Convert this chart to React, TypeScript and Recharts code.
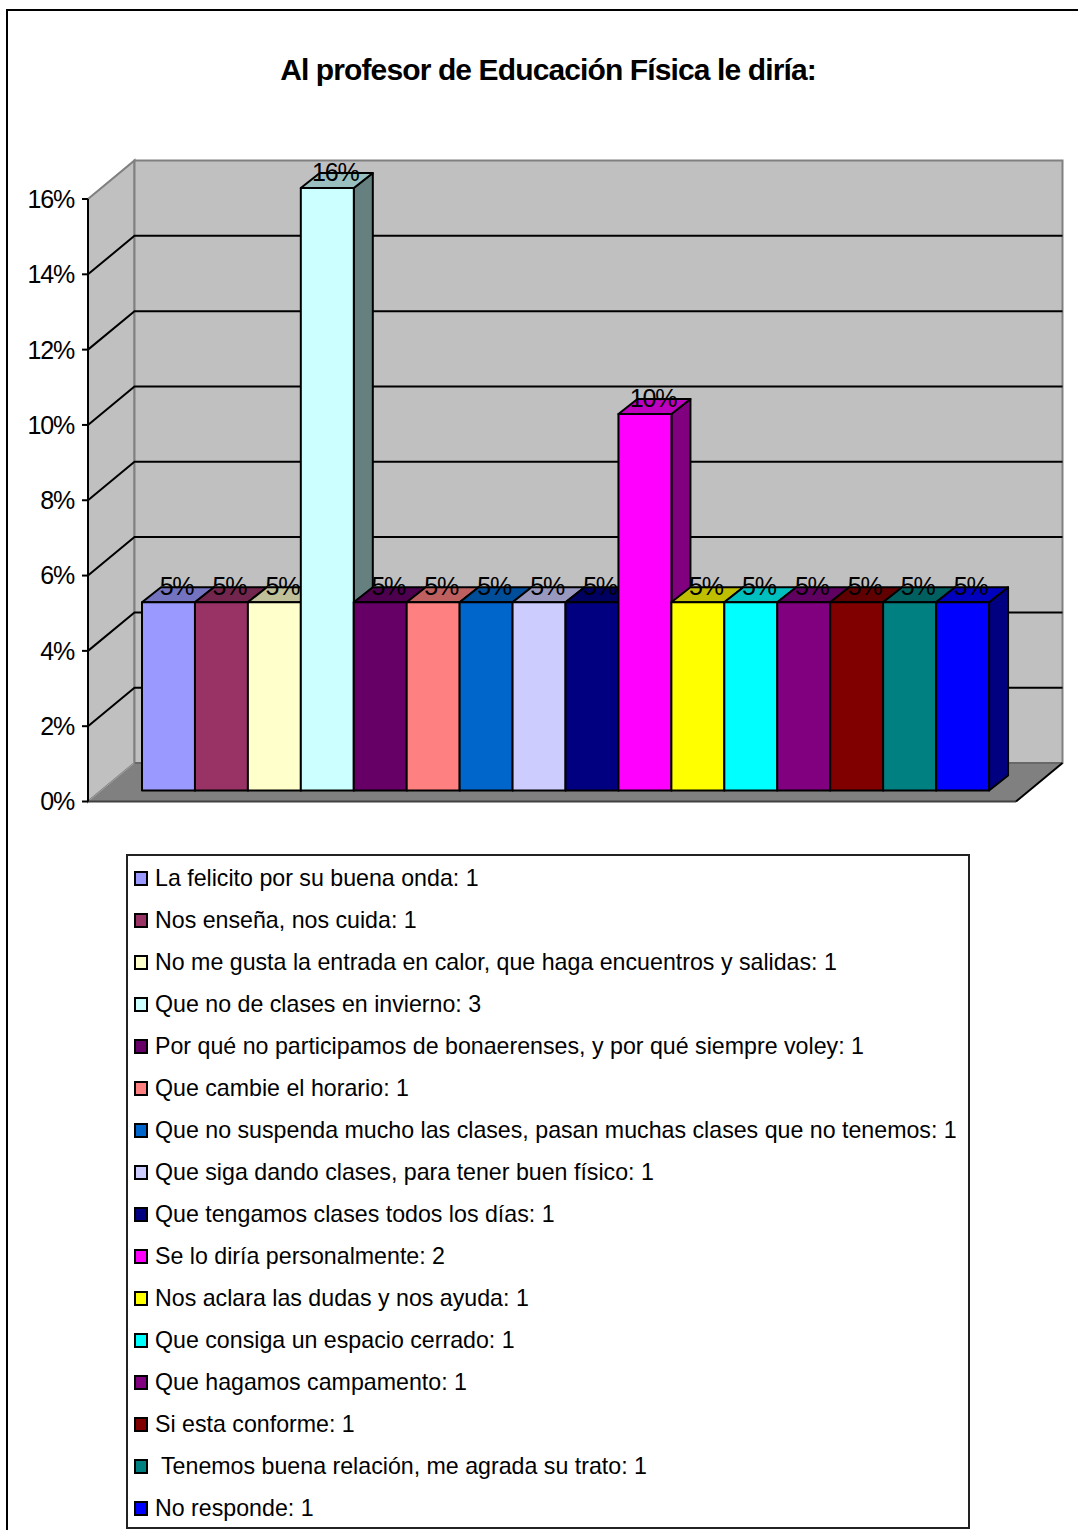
import { Bar, BarChart, CartesianGrid, Cell, LabelList, Legend, XAxis, YAxis, usePlotArea } from 'recharts';

const categories = [
  'La felicito por su buena onda',
  'Nos enseña, nos cuida',
  'No me gusta la entrada en calor, que haga encuentros y salidas',
  'Que no de clases en invierno',
  'Por qué no participamos de bonaerenses, y por qué siempre voley',
  'Que cambie el horario',
  'Que no suspenda mucho las clases, pasan muchas clases que no tenemos',
  'Que siga dando clases, para tener buen físico',
  'Que tengamos clases todos los días',
  'Se lo diría personalmente',
  'Nos aclara las dudas y nos ayuda',
  'Que consiga un espacio cerrado',
  'Que hagamos campamento',
  'Si esta conforme',
  ' Tenemos buena relación, me agrada su trato',
  'No responde',
];
const counts = [1, 1, 1, 3, 1, 1, 1, 1, 1, 2, 1, 1, 1, 1, 1, 1];
const percents = [5, 5, 5, 16, 5, 5, 5, 5, 5, 10, 5, 5, 5, 5, 5, 5];
const colors = [
  '#9999FF', '#993366', '#FFFFCC', '#CCFFFF', '#660066', '#FF8080', '#0066CC', '#CCCCFF',
  '#000080', '#FF00FF', '#FFFF00', '#00FFFF', '#800080', '#800000', '#008080', '#0000FF',
];
const yTicks = [0, 2, 4, 6, 8, 10, 12, 14, 16];

const data = categories.map((name, i) => ({ name, percent: percents[i], color: colors[i] }));

const FONT = '"Liberation Sans", Arial, sans-serif';
// depth of the chart box
const WALL_DX = 46.5;
const WALL_DY = 38.5;
// bars stand a little behind the front edge of the floor
const BAR_SHIFT_X = 13;
const BAR_SHIFT_Y = 11;
const BAR_DX = 19;
const BAR_DY = 15;

function shade(hex: string, k: number) {
  const n = parseInt(hex.slice(1), 16);
  const part = (v: number) => Math.round(v * k);
  return `rgb(${part((n >> 16) & 255)},${part((n >> 8) & 255)},${part(n & 255)})`;
}

function Walls() {
  const plot = usePlotArea();
  if (!plot) return null;
  const l = plot.x;
  const r = plot.x + plot.width;
  const t = plot.y;
  const b = plot.y + plot.height;
  return (
    <g>
      <polygon
        points={`${l},${b} ${l + WALL_DX},${b - WALL_DY} ${l + WALL_DX},${t - WALL_DY} ${l},${t}`}
        fill="#c0c0c0"
        stroke="#808080"
        strokeWidth={2}
      />
      <rect x={l + WALL_DX} y={t - WALL_DY} width={r - l} height={b - t} fill="#c0c0c0" stroke="#808080" strokeWidth={2} />
      <polygon
        points={`${l},${b} ${l + WALL_DX},${b - WALL_DY} ${r + WALL_DX},${b - WALL_DY} ${r},${b}`}
        fill="#808080"
      />
      <line x1={l + WALL_DX} y1={b - WALL_DY} x2={r + WALL_DX} y2={b - WALL_DY} stroke="#606060" strokeWidth={1.5} />
      <line x1={l + WALL_DX} y1={b - WALL_DY} x2={l} y2={b} stroke="#a0a0a0" strokeWidth={1} />
      <line x1={l} y1={b} x2={r} y2={b} stroke="#404040" strokeWidth={2} />
      <line x1={r} y1={b} x2={r + WALL_DX} y2={b - WALL_DY} stroke="#000" strokeWidth={2} />
      <line x1={l} y1={t} x2={l} y2={b} stroke="#000" strokeWidth={2} />
    </g>
  );
}

function GridLine(props: any) {
  const { x1, y1, x2, index } = props;
  if (index === 0 || index === yTicks.length - 1) return <g />;
  const backY = y1 - WALL_DY;
  return (
    <polyline
      points={`${x1},${y1} ${x1 + WALL_DX},${backY} ${x2 + WALL_DX},${backY}`}
      fill="none"
      stroke="#000"
      strokeWidth={2}
    />
  );
}

function Bar3D(props: any) {
  const { x, y, width, height, index } = props;
  const fx = x + BAR_SHIFT_X;
  const fy = y - BAR_SHIFT_Y;
  const color = colors[index];
  return (
    <g stroke="#000" strokeWidth={2} strokeLinejoin="round">
      <polygon
        points={`${fx + width},${fy} ${fx + width + BAR_DX},${fy - BAR_DY} ${fx + width + BAR_DX},${fy + height - BAR_DY} ${fx + width},${fy + height}`}
        fill={shade(color, 0.5)}
      />
      <polygon
        points={`${fx},${fy} ${fx + BAR_DX},${fy - BAR_DY} ${fx + width + BAR_DX},${fy - BAR_DY} ${fx + width},${fy}`}
        fill={shade(color, 0.75)}
      />
      <rect x={fx} y={fy} width={width} height={height} fill={color} />
    </g>
  );
}

function PercentLabel(props: any) {
  const { x, y, width, value } = props;
  return (
    <text
      x={x + BAR_SHIFT_X + width / 2 + 8}
      y={y - BAR_SHIFT_Y - 16}
      textAnchor="middle"
      dominantBaseline="central"
      fontFamily={FONT}
      fontSize={25}
      letterSpacing={-1.2}
      fill="#000"
    >
      {value}%
    </text>
  );
}

function LegendBox() {
  return (
    <div style={{ position: 'relative', width: 844, height: 675, boxSizing: 'border-box', border: '2px solid #222', background: '#fff' }}>
      {categories.map((name, i) => (
        <div key={name} style={{ position: 'absolute', left: 0, top: 1 + i * 42, height: 42, display: 'flex', alignItems: 'center' }}>
          <span
            style={{
              position: 'absolute',
              left: 6,
              top: 14,
              width: 14,
              height: 15,
              boxSizing: 'border-box',
              border: '2px solid #000',
              background: colors[i],
            }}
          />
          <span
            style={{
              marginLeft: 27,
              fontFamily: FONT,
              fontSize: 23.2,
              color: '#000',
              whiteSpace: 'pre',
            }}
          >
            {`${name}: ${counts[i]}`}
          </span>
        </div>
      ))}
    </div>
  );
}

export default function App() {
  return (
    <div style={{ position: 'absolute', left: 0, top: 0, width: 1078, height: 1530, overflow: 'hidden', background: '#fff' }}>
      <div
        style={{
          position: 'absolute',
          left: 6,
          top: 9,
          width: 1200,
          height: 1600,
          boxSizing: 'border-box',
          border: '2px solid #000',
        }}
      />
      <div
        style={{
          position: 'absolute',
          left: 0,
          top: 52,
          width: 1096,
          textAlign: 'center',
          fontFamily: FONT,
          fontWeight: 700,
          fontSize: 30,
          letterSpacing: -0.88,
          lineHeight: '36px',
          color: '#000',
        }}
      >
        Al profesor de Educación Física le diría:
      </div>
      <div style={{ position: 'absolute', left: 0, top: 0 }}>
        <BarChart
          width={1078}
          height={1530}
          data={data}
          barCategoryGap={0}
          margin={{ top: 199, right: 62, bottom: 728.5, left: 0 }}
        >
          <Walls />
          <CartesianGrid vertical={false} zIndex={1} horizontal={(p: any) => <GridLine {...p} />} />
          <XAxis dataKey="name" hide padding={{ left: 41, right: 40 }} />
          <YAxis
            width={88}
            domain={[0, 16]}
            ticks={yTicks}
            tickFormatter={(v) => `${v}%`}
            tick={{ fill: '#000', fontSize: 25, fontFamily: FONT, letterSpacing: -1.2 }}
            tickSize={6}
            tickMargin={8}
            axisLine={false}
            tickLine={{ stroke: '#000', strokeWidth: 2 }}
            interval={0}
          />
          <Bar dataKey="percent" shape={(p: any) => <Bar3D {...p} />} isAnimationActive={false}>
            {data.map((d) => (
              <Cell key={d.name} fill={d.color} />
            ))}
            <LabelList dataKey="percent" content={(p: any) => <PercentLabel {...p} />} />
          </Bar>
          <Legend
            layout="vertical"
            align="center"
            verticalAlign="middle"
            content={() => <LegendBox />}
            wrapperStyle={{ left: 126, top: 854, width: 844 }}
          />
        </BarChart>
      </div>
    </div>
  );
}
